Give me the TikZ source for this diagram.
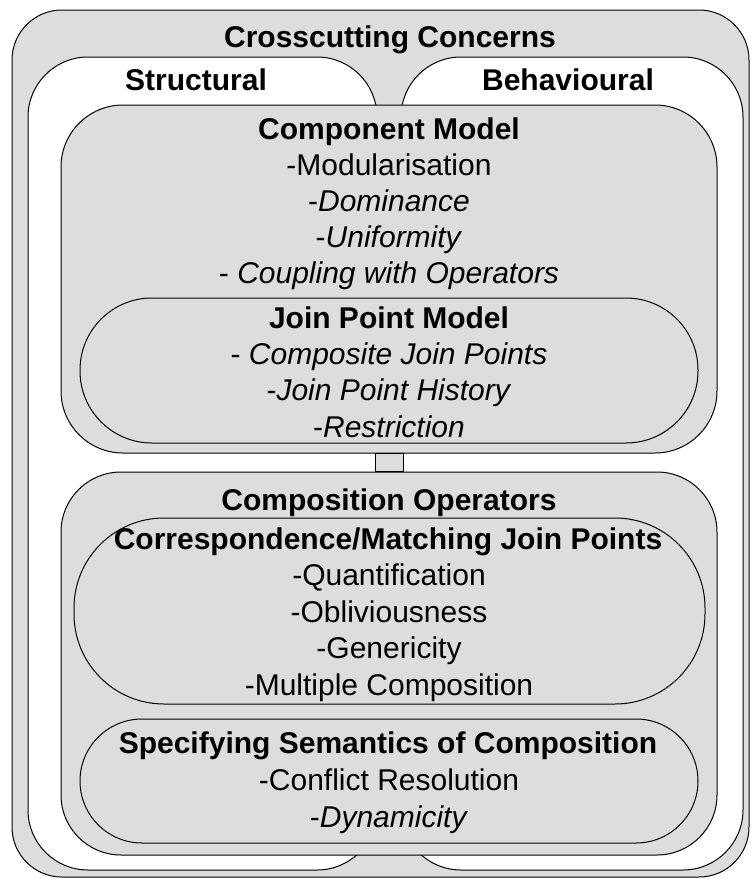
\documentclass[tikz,border=0pt]{standalone}
\usepackage{fontspec}
\setmainfont{Liberation Sans}
\usetikzlibrary{positioning}
\definecolor{boxgray}{RGB}{221,221,221}

\begin{document}
\begin{tikzpicture}[x=1pt,y=-1pt,
		panel/.style={draw,fill=boxgray,line width=1pt,inner sep=0pt},
		lane/.style={draw,fill=white,line width=1pt,inner sep=0pt,rounded corners=60pt},
		link/.style={draw,fill=boxgray,line width=1pt},
		head/.style={anchor=base,inner sep=0pt,font=\fontsize{30}{36}\selectfont\bfseries},
		item/.style={anchor=base,inner sep=0pt,font=\fontsize{30}{36}\selectfont}]
		\useasboundingbox (0,0) rectangle (754,879);

		% boxes
		\node[panel,rounded corners=50pt,minimum width=737pt,minimum height=867pt]	(outer)	at (380.5,443.5)	{};
		\node[lane,minimum width=349pt,minimum height=813pt]	(struct)	at (202.5,463.5)	{};
		\node[lane,minimum width=342pt,minimum height=813pt]	(behav)		at (572,463.5)		{};
		\node[panel,rounded corners=62pt,minimum width=656pt,minimum height=348pt]	(cm)	at (389,279)	{};
		\node[panel,rounded corners=72pt,minimum width=618pt,minimum height=145pt]	(jpm)	at (389,370.5)	{};
		\node[panel,rounded corners=60pt,minimum width=656pt,minimum height=383pt]	(comp)	at (389,663.5)	{};
		\node[panel,rounded corners=90pt,minimum width=631pt,minimum height=186pt]	(corr)	at (389.5,611)	{};
		\node[panel,rounded corners=62pt,minimum width=618pt,minimum height=124pt]	(spec)	at (389,781)	{};

		\draw[link] ([xshift=-14pt]cm.south) rectangle ([xshift=14pt]comp.north);

		% texts
		\node[head]	(cctitle)	at (390,47)		{Crosscutting Concerns};
		\node[head]	(sttitle)	at (196,90)		{Structural};
		\node[head]	(bhtitle)	at (568,90)		{Behavioural};

		\node[head]	(cmtitle)	at (389,139)	{Component Model};
		\node[item]	(cm1)		at (389,175)	{-Modularisation};
		\node[item]	(cm2)		at (389,211)	{-\textit{Dominance}};
		\node[item]	(cm3)		at (389,247)	{-\textit{Uniformity}};
		\node[item]	(cm4)		at (389,283)	{- \textit{Coupling with Operators}};

		\node[head]	(jpmtitle)	at (389,328)	{Join Point Model};
		\node[item]	(jpm1)		at (389,364)	{- \textit{Composite Join Points}};
		\node[item]	(jpm2)		at (389,400)	{-\textit{Join Point History}};
		\node[item]	(jpm3)		at (389,437)	{-\textit{Restriction}};

		\node[head]	(comptitle)	at (389,510)	{Composition Operators};
		\node[head]	(corrtitle)	at (388,549)	{Correspondence/Matching Join Points};
		\node[item]	(corr1)		at (389,585)	{-Quantification};
		\node[item]	(corr2)		at (389,622)	{-Obliviousness};
		\node[item]	(corr3)		at (389,658)	{-Genericity};
		\node[item]	(corr4)		at (389,695)	{-Multiple Composition};

		\node[head]	(spectitle)	at (388,753)	{Specifying Semantics of Composition};
		\node[item]	(spec1)		at (389,790)	{-Conflict Resolution};
		\node[item]	(spec2)		at (389,827)	{-\textit{Dynamicity}};
	\end{tikzpicture}
\end{document}
